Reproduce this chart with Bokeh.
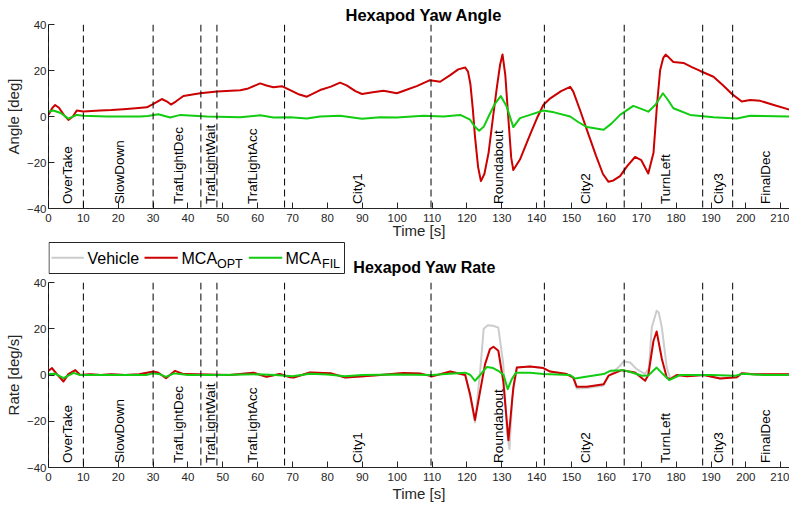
import numpy as np
from bokeh.plotting import figure
from bokeh.layouts import column
from bokeh.models import Range1d, FixedTicker, Span
from bokeh.core.properties import value
from bokeh.embed import file_html
from bokeh.resources import INLINE

FONT = "Liberation Sans"
AX = "#262626"
C_VEH = "#cccccc"
C_OPT = "#cc0000"
C_FIL = "#11cc11"

# ---------------- data ----------------
x_ticks = list(range(0, 220, 10))
y_ticks = [-40, -20, 0, 20, 40]

event_bounds = [0, 10, 30, 43.7, 48.3, 67.7, 109.7, 142.2, 165.1, 187.6, 196.2]
event_names = ["OverTake", "SlowDown", "TrafLightDec", "TrafLightWait", "TrafLightAcc",
               "City1", "Roundabout", "City2", "TurnLeft", "City3", "FinalDec"]
event_label_x = [5.5, 20.3, 37.3, 46.6, 58.5, 88.7, 129.1, 154.1, 176.8, 192.2, 205.5]

# Hexapod yaw angle [deg]
t_ang_opt = [0, 1, 1.9, 3, 4.5, 5.7, 7, 8.1, 10, 14.8, 18, 21.5, 25, 28.2, 30.1, 32.5, 34,
             35.1, 36.5, 38.7, 43.5, 48.3, 55, 57.3, 60.7, 62.5, 64.5, 66.9, 69.3, 71.5, 74.1,
             77.9, 81, 83.6, 85.5, 88, 89.9, 93, 96.1, 99.9, 102.5, 105.6, 109.4, 112.3, 115.2,
             117.5, 119.5, 120.3, 121, 121.7, 122.3, 123.2, 124, 125, 126.2, 127.5, 128.6,
             129.5, 130.2, 131, 131.9, 132.7, 133.3, 135.2, 138.1, 140, 141.9, 143.9, 147,
             149.6, 150.5, 152.5, 154.4, 157, 159, 160.6, 162, 163.9, 166, 168.2, 170, 172,
             173.5, 174.5, 175.4, 176.3, 177, 178, 179.2, 182.1, 184.5, 186.9, 190.7, 193.5,
             196, 198.8, 201.2, 204.1, 208, 212.5]
ang_opt = [0.7, 3.5, 5.0, 3.8, 0.5, -1.5, 0.0, 2.6, 2.2, 2.6, 2.8, 3.2, 3.6, 4.0, 5.5, 7.6, 6.5,
           5.2, 6.5, 8.9, 10.1, 10.9, 11.4, 12.2, 14.4, 13.5, 12.7, 13.2, 11.5, 9.8, 8.6,
           11.5, 13.0, 14.7, 13.5, 11.0, 9.8, 10.5, 11.2, 10.1, 11.5, 13.2, 15.8, 15.1, 18.0,
           20.5, 21.3, 19.5, 14.0, 3.0, -8.6, -22.0, -28.1, -25.0, -15.8, 0.0, 12.9,
           22.5, 27.0, 18.0, -1.4, -18.0, -23.3, -18.7, -7.9, -1.0, 5.0, 7.9, 11.0,
           12.9, 10.8, 2.5, -5.8, -17.0, -25.0, -28.4, -27.8, -25.9, -21.5, -17.6, -19.0, -24.8,
           -15.8, 5.0, 20.1, 25.5, 26.9, 25.5, 23.7, 23.3, 21.5, 19.8, 17.3, 13.5,
           9.8, 6.5, 7.2, 6.8, 5.0, 3.0]

t_ang_fil = [0, 1.4, 3.5, 5.7, 8.1, 10, 16.7, 26.3, 28.5, 31.5, 34.9, 37.8, 45.4, 55, 60.7,
             64.5, 69.3, 74.1, 77.9, 83.6, 89.9, 95.1, 99.9, 107.5, 113.3, 118.1, 120.9, 122.3,
             123.5, 124.8, 126.2, 128, 129.7, 131.4, 133.3, 135.2, 138.1, 141.9, 145, 149.6,
             152, 154.4, 159.2, 161.5, 163.9, 167.7, 170, 172, 174, 176.2, 177.5, 179.2, 184,
             190.7, 197.4, 201.2, 212.5]
ang_fil = [2.1, 2.6, 1.5, -0.9, 0.7, 0.3, 0.0, 0.0, 0.2, 1.0, -0.4, 0.7, 0.0, -0.3, 0.5,
           -0.4, -0.3, -0.9, 0.0, 0.3, -1.0, -0.3, -0.4, 0.3, 0.0, 0.7, -1.4, -4.5,
           -6.2, -4.5, 0.0, 5.5, 8.9, 4.3, -4.6, -0.7, 0.7, 2.6, 1.8, 0.0,
           -2.5, -4.6, -5.8, -3.0, 0.7, 4.6, 3.3, 2.1, 5.0, 10.1, 7.5, 3.6, 0.7,
           -0.3, -0.9, 0.3, 0.0]

# Hexapod yaw rate [deg/s]
t_rate_veh = [0, 1, 2.4, 4.3, 5.7, 7.7, 9.1, 12, 15, 18, 22, 26, 30.1, 31.5, 33.7, 36.3, 38.7,
              45, 52, 58.8, 62.5, 66.3, 69.3, 70.3, 75, 80.8, 85.1, 89.4, 95.1, 101.8, 106.5,
              110, 115.2, 119.5, 120.9, 122.3, 123.8, 124.8, 126, 127.5, 129, 130.4, 131.5,
              132.2, 133, 134.3, 138.1, 141.9, 143.9, 148.6, 150.5, 151.5, 154.4, 159.2, 160.6,
              163.9, 164.9, 166.8, 168.7, 171.1, 172.2, 173, 174.4, 175, 175.9, 177.3, 178.3,
              180.2, 183.1, 187.9, 192.6, 197.4, 198.8, 202.2, 212.5]
rate_veh = [1.8, 2.8, 0.4, -2.6, 0.4, 2.0, 0.0, 0.3, 0.0, 0.3, 0.0, 0.3, 1.4, 1.0, -1.3, 1.7, 0.4,
            0.2, 0.0, 1.0, -0.8, 0.4, -1.0, -1.1, 1.1, 0.8, -1.1, -0.6, 0.0, 0.9, 0.7,
            -0.6, 1.5, 0.0, -9.0, -20.5, 1.8, 20.0, 21.5, 21.3, 20.5, 5.0, -25.0,
            -32.0, -10.0, 3.2, 3.7, 3.0, 1.5, 0.4, -1.3, -5.8, -5.6, -4.5, -0.5,
            4.0, 5.8, 5.4, 2.5, 0.4, 3.0, 20.5, 27.8, 27.0, 20.5, 3.2, -1.5,
            0.0, -0.5, 0.0, -1.5, -1.0, 0.8, 0.3, 0.3]

t_rate_opt = [0, 1, 2.4, 4.3, 5.7, 7.7, 9.1, 12, 15, 18, 22, 26, 30.1, 31.5, 33.7, 36.3, 38.7,
              45, 52, 58.8, 62.5, 66.3, 69.3, 70.3, 75, 80.8, 85.1, 89.4, 95.1, 101.8, 106.5,
              110, 115.2, 119.5, 120.9, 122.3, 123.8, 125.2, 126.6, 127.6, 129, 130.4, 131.9,
              133.3, 134.3, 138.1, 141.9, 143.9, 148.6, 150.5, 151.5, 154.4, 159.2, 160.6,
              164.4, 168.2, 171.1, 172, 173.5, 174.4, 175.9, 177.3, 178.3, 180.2, 183.1, 187.9,
              192.6, 197.4, 198.8, 202.2, 212.5]
rate_opt = [1.8, 3.0, 0.4, -2.8, 0.4, 2.1, 0.0, 0.3, 0.0, 0.3, 0.0, 0.3, 1.5, 1.0, -1.4, 1.8, 0.4,
            0.2, 0.0, 1.0, -0.8, 0.4, -1.0, -1.1, 1.1, 0.8, -1.1, -0.6, 0.0, 0.9, 0.7,
            -0.6, 1.5, 0.0, -8.3, -19.5, -6.8, 4.7, 11.2, 12.2, 10.5, -2.5, -28.2,
            -5.4, 3.2, 3.7, 3.0, 1.5, 0.4, -1.1, -5.1, -5.1, -4.0, -0.3,
            2.1, 1.1, -2.5, 0.0, 14.8, 18.8, 6.9, -1.1, -1.8, 0.0, -0.5, 0.0,
            -1.5, -1.0, 0.8, 0.3, 0.3]

t_rate_fil = [0, 2, 4.3, 7.2, 9, 12, 20, 28, 30, 32, 33.7, 36, 40, 50, 60, 65, 70, 75, 80, 85,
              90, 100, 110, 115, 119.5, 121, 122.3, 123.8, 125.7, 127.5, 129, 130.5, 131.7,
              132.8, 134, 138.1, 141.9, 149.6, 151, 155, 159.2, 161.1, 164.9, 167.5, 170.2,
              172, 174.4, 176.2, 178, 181.1, 190, 197, 199, 205, 212.5]
rate_fil = [0.4, 0.5, -1.4, 0.9, 0.0, 0.0, 0.0, 0.0, 0.7, 0.3, -0.8, 0.7, 0.0, 0.0, 0.3, 0.0,
            -0.5, 0.5, 0.2, -0.5, 0.0, 0.2, 0.0, 0.5, 1.0, 0.0, -2.5, 0.0, 3.5, 3.0, 1.8,
            0.0, -6.1, -2.0, 1.0, 1.0, 0.4, 0.0, -1.5, -0.5, 0.4, 1.8, 2.1, 1.0, -0.3,
            -0.2, 3.2, 0.4, -2.2, 0.0, 0.0, -0.3, 0.5, 0.0, 0.0]


def make_fig(height, top, bottom, ylabel, xlabel_standoff, title=None):
    kw = dict(width=789, height=height, output_backend="svg", toolbar_location=None,
              x_range=Range1d(0, 212.5), y_range=Range1d(-40, 40),
              min_border_left=48, min_border_right=0, min_border_top=top,
              min_border_bottom=bottom)
    if title:
        kw["title"] = title
    p = figure(**kw)
    p.outline_line_color = None
    p.xgrid.visible = False
    p.ygrid.visible = False
    p.background_fill_color = "white"
    p.border_fill_color = "white"
    if title:
        p.title.text_font = FONT
        p.title.text_font_size = "16.5px"
        p.title.text_font_style = "bold"
        p.title.text_color = "black"
        p.title.align = "left"
        p.title.offset = 297
        p.title.standoff = 2
    p.xaxis.ticker = FixedTicker(ticks=x_ticks)
    p.yaxis.ticker = FixedTicker(ticks=y_ticks)
    for ax in (p.xaxis, p.yaxis):
        ax.axis_line_color = AX
        ax.major_tick_line_color = AX
        ax.minor_tick_line_color = None
        ax.major_tick_in = 6
        ax.major_tick_out = 0
        ax.major_label_text_font = FONT
        ax.major_label_text_font_size = "11.5px"
        ax.major_label_text_color = AX
        ax.axis_label_text_font = FONT
        ax.axis_label_text_font_size = "15px"
        ax.axis_label_text_font_style = "normal"
        ax.axis_label_text_color = AX
    p.xaxis.major_label_standoff = 5
    p.yaxis.major_label_standoff = 2
    p.xaxis.axis_label_standoff = xlabel_standoff
    p.yaxis.axis_label_standoff = 2
    p.xaxis.axis_label = "Time [s]"
    p.yaxis.axis_label = ylabel
    for b in event_bounds:
        p.add_layout(Span(location=b, dimension="height", line_color="black",
                          line_dash="7 4", line_width=1))
    p.text(x=event_label_x, y=[-38] * len(event_label_x), text=event_names,
           angle=np.pi / 2, text_align="left", text_baseline="middle",
           text_font=value(FONT), text_font_size="13.5px", text_color="black")
    return p


f1 = make_fig(241, 24, 32, "Angle [deg]", -3, "Hexapod Yaw Angle")
f1.line(t_ang_opt, ang_opt, line_color=C_OPT, line_width=2, line_join="round")
f1.line(t_ang_fil, ang_fil, line_color=C_FIL, line_width=2, line_join="round")

f2 = make_fig(234, 6, 43, "Rate [deg/s]", 1)
f2.line(t_rate_veh, rate_veh, line_color=C_VEH, line_width=2, line_join="round")
f2.line(t_rate_opt, rate_opt, line_color=C_OPT, line_width=2, line_join="round")
f2.line(t_rate_fil, rate_fil, line_color=C_FIL, line_width=2, line_join="round")

# strip between the plots: legend + second title (page-pixel coordinates)
s = figure(width=789, height=35, x_range=Range1d(48, 789), y_range=Range1d(0, 35),
           output_backend="svg", toolbar_location=None,
           x_axis_location=None, y_axis_location=None,
           min_border_left=48, min_border_right=0, min_border_top=0, min_border_bottom=0)
s.outline_line_color = None
s.grid.visible = False
s.quad(left=[48.5], right=[344], bottom=[3], top=[34], fill_color="white",
       line_color=AX, line_width=1)
s.segment(x0=[51, 144, 248.3], x1=[83.3, 177.3, 281.7], y0=[18.7] * 3, y1=[18.7] * 3,
          line_color=[C_VEH, C_OPT, C_FIL], line_width=2)
s.text(x=[87, 181, 285], y=[18.5] * 3, text=["Vehicle", "MCA", "MCA"],
       text_font=value(FONT), text_font_size="16px", text_baseline="alphabetic",
       text_align="left", text_color="black")
s.text(x=[216.5, 321.5], y=[12.5, 12.5], text=["OPT", "FIL"],
       text_font=value(FONT), text_font_size="12.5px", text_baseline="alphabetic",
       text_align="left", text_color="black")
s.text(x=[424], y=[9.5], text=["Hexapod Yaw Rate"], text_font=value(FONT),
       text_font_size="16px", text_font_style="bold", text_baseline="alphabetic",
       text_align="center", text_color="black")

layout = column(f1, s, f2)
open("out.html", "w").write(file_html(layout, INLINE))
